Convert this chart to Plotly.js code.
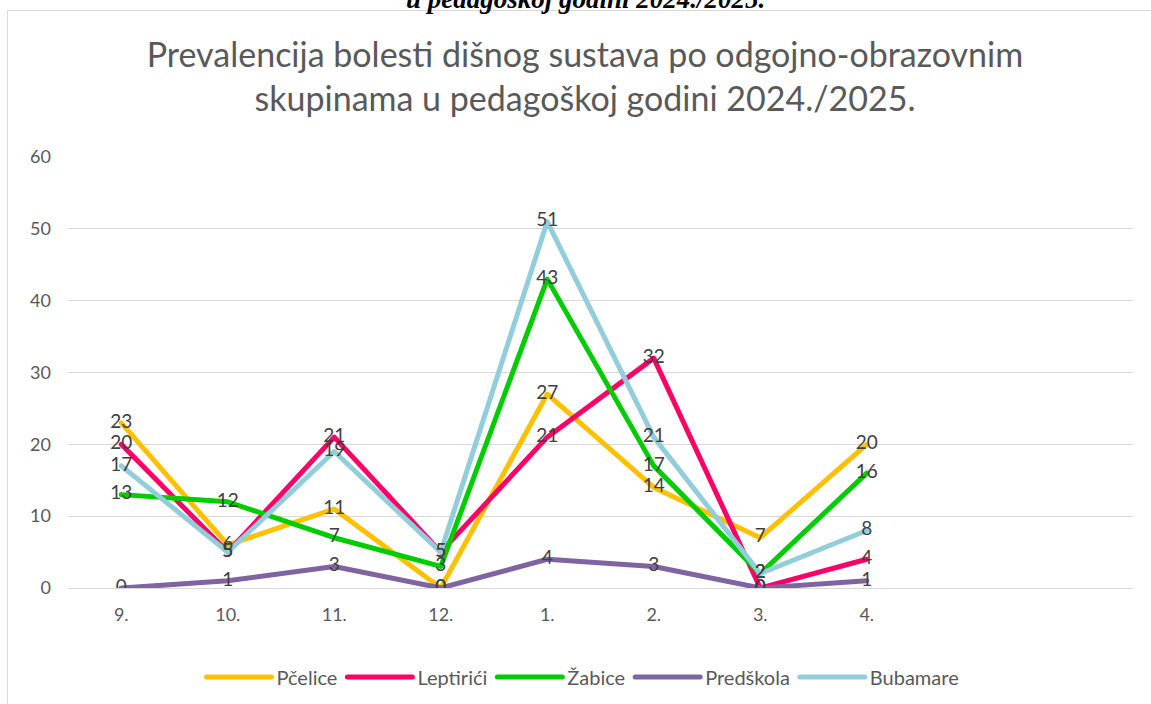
<!DOCTYPE html>
<html>
<head>
<meta charset="utf-8">
<script src="https://cdn.plot.ly/plotly-3.0.1.min.js"></script>
<style>
  html, body { margin: 0; padding: 0; background: #ffffff; }
  #chart { width: 1151px; height: 704px; }
  .js-line { stroke-linejoin: round !important; stroke-linecap: round !important; }
  .legendlines path { stroke-linecap: round !important; }
</style>
</head>
<body>
<div id="chart"></div>
<script>
const categories = ["9.", "10.", "11.", "12.", "1.", "2.", "3.", "4."];
const seriesNames = ["Pčelice", "Leptirići", "Žabice", "Predškola", "Bubamare"];
const pcelice   = [23, 6, 11, 0, 27, 14, 7, 20];
const leptirici = [20, 5, 21, 5, 21, 32, 0, 4];
const zabice    = [13, 12, 7, 3, 43, 17, 2, 16];
const predskola = [0, 1, 3, 0, 4, 3, 0, 1];
const bubamare  = [17, 5, 19, 5, 51, 21, 2, 8];
const yTicks = [0, 10, 20, 30, 40, 50, 60];
const chartTitle = "Prevalencija bolesti dišnog sustava po odgojno-obrazovnim<br>skupinama u pedagoškoj godini 2024./2025.";
const headerText = "u pedagoškoj godini 2024./2025.";

const seriesValues = [pcelice, leptirici, zabice, predskola, bubamare];
const colors = ["#FFC000", "#FF0066", "#00CC00", "#8064A2", "#92CDDC"];

const lineTraces = seriesNames.map((name, i) => ({
  type: "scatter",
  mode: "lines",
  name: name,
  x: categories,
  y: seriesValues[i],
  line: { color: colors[i], width: 5 },
  hoverinfo: "skip"
}));

const textTraces = seriesNames.map((name, i) => ({
  type: "scatter",
  mode: "text",
  name: name,
  showlegend: false,
  x: categories,
  y: seriesValues[i],
  text: seriesValues[i].map(String),
  textposition: "middle center",
  textfont: { family: "Lato, sans-serif", size: 19, color: "#404040" },
  hoverinfo: "skip"
}));

const PW = 1065, PH = 431, L = 68, B0 = 588;
const px = v => (v - L) / PW;
const py = v => (B0 - v) / PH;

const layout = {
  width: 1151,
  height: 704,
  autosize: false,
  paper_bgcolor: "#ffffff",
  plot_bgcolor: "#ffffff",
  margin: { l: 68, r: 18, t: 157, b: 116, autoexpand: false },
  font: { family: "Lato, sans-serif", color: "#595959" },
  title: {
    text: chartTitle,
    font: { family: "Lato, sans-serif", size: 34, color: "#595959" },
    xref: "container", x: 585 / 1151, xanchor: "center",
    yref: "container", y: 1 - 67 / 704, yanchor: "middle"
  },
  xaxis: {
    type: "category",
    range: [-0.5, 9.5],
    showgrid: false,
    showline: false,
    zeroline: false,
    ticks: "",
    ticklabelstandoff: 14,
    tickfont: { family: "Lato, sans-serif", size: 18, color: "#595959" },
    fixedrange: true
  },
  yaxis: {
    range: [0, 60],
    tickvals: yTicks,
    showgrid: true,
    gridcolor: "#d9d9d9",
    gridwidth: 1,
    zeroline: true,
    zerolinecolor: "#d9d9d9",
    zerolinewidth: 1,
    showline: false,
    ticks: "",
    ticklabelstandoff: 16,
    tickfont: { family: "Lato, sans-serif", size: 18, color: "#595959" },
    fixedrange: true
  },
  showlegend: true,
  legend: {
    orientation: "h",
    xref: "paper", x: px(583), xanchor: "center",
    yref: "paper", y: py(677), yanchor: "middle",
    font: { family: "Lato, sans-serif", size: 20, color: "#595959" },
    itemwidth: 65,
    tracegroupgap: 0,
    bgcolor: "rgba(0,0,0,0)"
  },
  shapes: [{
    type: "rect",
    xref: "paper", yref: "paper",
    x0: px(7.5), x1: px(1170),
    y0: py(720), y1: py(10.5),
    line: { color: "#d9d9d9", width: 1 },
    fillcolor: "rgba(0,0,0,0)",
    layer: "below"
  }],
  annotations: [{
    text: "<b><i>" + headerText + "</i></b>",
    xref: "paper", yref: "paper",
    x: px(585), y: py(-1),
    xanchor: "center", yanchor: "middle",
    showarrow: false,
    font: { family: "Liberation Serif, serif", size: 27, color: "#000000" }
  }]
};

Plotly.newPlot("chart", lineTraces.concat(textTraces), layout, { displayModeBar: false, staticPlot: true });
</script>
</body>
</html>
